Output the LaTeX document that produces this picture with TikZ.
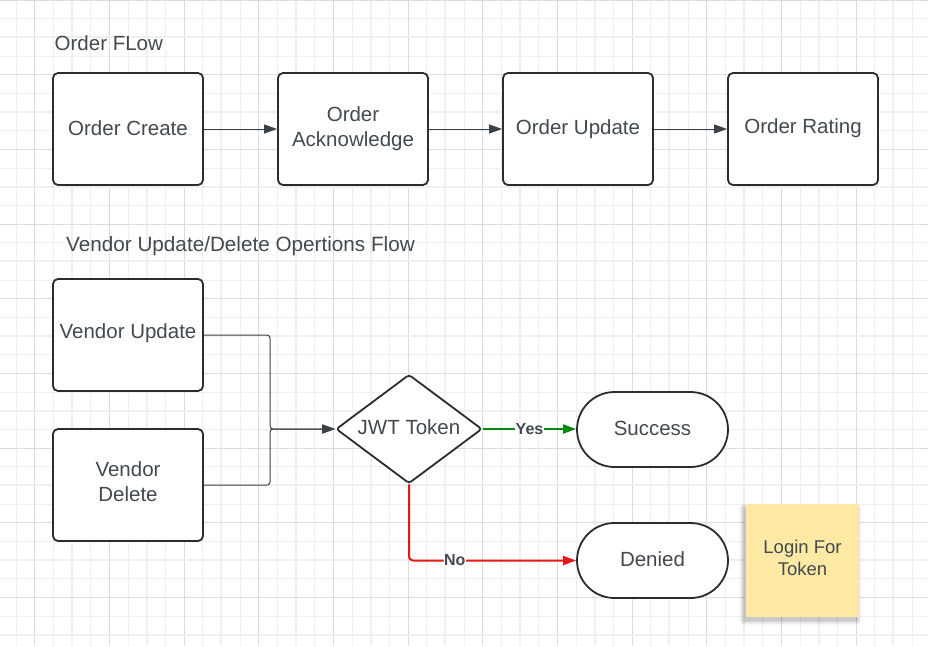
\documentclass[tikz,border=0pt]{standalone}
\usepackage{fontspec}
\setmainfont{Liberation Sans}
\usetikzlibrary{shapes.geometric,shapes.misc,arrows.meta}
\definecolor{gridminor}{HTML}{EFEFEF}
\definecolor{gridmajor}{HTML}{DCDCDC}
\definecolor{boxline}{HTML}{282C33}
\definecolor{txt}{HTML}{434951}
\definecolor{conncol}{HTML}{3A414A}
\definecolor{yescol}{HTML}{008A0E}
\definecolor{nocol}{HTML}{E81717}
\definecolor{sticky}{HTML}{FDE9A4}
\newcommand{\boxfnt}{\fontsize{20.5}{25}\selectfont}
\newcommand{\lblfnt}{\fontsize{16}{19}\selectfont\bfseries}
\newcommand{\notefnt}{\fontsize{18.5}{22.5}\selectfont}
\newcommand{\liftup}[2]{\raisebox{#1}[\height][\depth]{#2}}
\tikzset{
  box/.style={draw=boxline, line width=1.8pt, rounded corners=5pt, fill=white,
    minimum width=150pt, minimum height=112pt, inner sep=0pt, align=center,
    font=\boxfnt, text=txt},
  title/.style={anchor=base west, inner sep=0pt, font=\boxfnt, text=txt},
  decision/.style={shape=diamond, draw=boxline, line width=1.8pt, fill=white,
    aspect=1.34, minimum width=146pt, minimum height=109pt, inner sep=0pt,
    rounded corners=3pt, font=\boxfnt, text=txt},
  terminal/.style={shape=rounded rectangle, rounded rectangle arc length=180,
    draw=boxline, line width=1.8pt, fill=white, minimum width=151pt,
    minimum height=75pt, inner sep=0pt, font=\boxfnt, text=txt},
  note/.style={fill=sticky, minimum width=113pt, minimum height=113pt,
    inner sep=0pt, align=center, font=\notefnt, text=txt},
  conn/.style={draw=conncol, line width=1pt, rounded corners=3pt},
  tipdark/.style={-{Triangle[length=13pt,width=9pt]}},
  yesline/.style={draw=yescol, line width=2pt, -{Triangle[length=13pt,width=9pt,fill=yescol]}},
  noline/.style={draw=nocol, line width=2pt, rounded corners=4pt, -{Triangle[length=13pt,width=9pt,fill=nocol]}},
  lbl/.style={font=\lblfnt, text=txt, fill=white, inner sep=0.6pt},
}
\begin{document}
\begin{tikzpicture}[x=1pt,y=-1pt]
\useasboundingbox (0,0) rectangle (928,646);
\fill[white] (0,0) rectangle (928,646);
% grid
\foreach \i in {0,...,49}{
  \draw[gridminor, line width=1pt] ({16+\i*18.6667},0) -- ({16+\i*18.6667},646);
}
\foreach \i in {0,...,34}{
  \draw[gridminor, line width=1pt] (0,{\i*18.6667}) -- (928,{\i*18.6667});
}
\foreach \i in {0,...,12}{
  \draw[gridminor, line width=1.8pt] ({72+\i*74.6667},0) -- ({72+\i*74.6667},646);
  \draw[gridmajor, line width=1pt] ({34.67+\i*74.6667},0) -- ({34.67+\i*74.6667},646);
}
\foreach \i in {0,...,8}{
  \draw[gridminor, line width=1.8pt] (0,{37.33+\i*74.6667}) -- (928,{37.33+\i*74.6667});
  \draw[gridmajor, line width=1pt] (0,{\i*74.6667}) -- (928,{\i*74.6667});
}

% titles
\node[title] (t1) at (54.5,50) {Order FLow};
\node[title] (t2) at (66,251.5) {\fontsize{20.7}{25}\selectfont Vendor Update/Delete Opertions Flow};

% order flow
\node[box] (oc) at (128,129) {\liftup{0.5pt}{Order Create}};
\node[box] (oa) at (353,129) {\parbox{140pt}{\centering Order\\Acknowledge}};
\node[box] (ou) at (578,129) {Order Update};
\node[box] (orr) at (803,129) {\liftup{1pt}{Order Rating}};
\draw[conn, tipdark] (oc) -- (oa);
\draw[conn, tipdark] (oa) -- (ou);
\draw[conn, tipdark] (ou) -- (orr);

% vendor flow
\node[box] (vu) at (128,335) {\liftup{1.5pt}{Vendor Update}};
\node[box] (vd) at (128,485) {\liftup{3pt}{\parbox{140pt}{\centering Vendor\\Delete}}};
\node[decision] (jwt) at (409,429) {\liftup{2pt}{JWT Token}};
\node[terminal] (succ) at (652.5,429.5) {\liftup{1pt}{Success}};
\node[terminal] (den) at (652.5,560.5) {\liftup{1pt}{Denied}};
% sticky note soft shadow
\foreach \k in {0,...,4}{
  \fill[black, opacity=0.045, rounded corners={\k pt}] ({743.5-\k},{508-\k}) rectangle ({857+\k},{620.5+\k});
}
\node[note] (nt) at (802.5,560.5) {\liftup{2.5pt}{\parbox{100pt}{\centering Login For\\Token}}};

\coordinate (jn) at (270,429);
\draw[conn, tipdark] (vu.east) -- (vu.east -| jn) -- (jn) -- (jwt.west);
\draw[conn, tipdark] (vd.east) -- (vd.east -| jn) -- (jn) -- (jwt.west);

\draw[yesline] (jwt.east) -- node[lbl]{Yes} (succ.west |- jwt.east);
\draw[noline] (jwt.south) |- node[lbl, pos=0.637]{No} (den.west);
\end{tikzpicture}
\end{document}
